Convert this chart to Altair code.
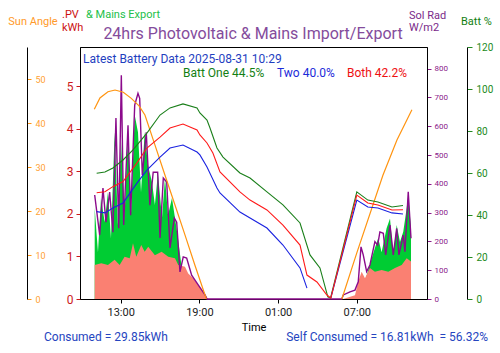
import altair as alt
import pandas as pd

FONT = "Roboto"

# ---------------- data (time = hours since 00:00 on the first day) ----------------
# total PV (upper edge of the green "mains export" area), kWh
pv_total_t = [11.02, 11.27, 11.50, 11.78, 12.03, 12.26, 12.54, 12.79, 13.02, 13.30,
              13.56, 13.79, 14.07, 14.32, 14.55, 14.83, 15.08, 15.39, 15.61, 15.84,
              16.15, 16.38, 16.61, 16.91, 17.14, 17.37, 17.67, 17.90, 18.40, 19.00,
              19.60, 31.50, 31.75, 32.13, 32.38, 32.63, 32.89, 33.27, 33.53, 33.78,
              34.04, 34.29, 34.54, 34.80, 34.92, 35.13]
pv_total_kwh = [2.14, 1.10, 2.37, 1.81, 2.51, 1.43, 3.92, 1.74, 3.73, 1.97,
                3.92, 2.04, 4.32, 3.92, 2.51, 3.92, 3.14, 2.74, 2.21, 2.96,
                1.90, 2.84, 1.97, 2.37, 1.90, 1.43, 0.70, 0.55, 0.30, 0.10,
                0.0, 0.0, 0.55, 0.95, 1.20, 1.43, 1.10, 1.66, 1.89, 1.03,
                1.74, 1.34, 1.58, 2.13, 2.44, 1.66]

# PV used on site (salmon area), kWh
pv_used_t = [11.02, 11.52, 12.03, 12.54, 12.92, 13.30, 13.69, 13.94, 14.19, 14.57,
             14.83, 15.10, 15.61, 16.12, 16.63, 17.14, 17.39, 17.90, 18.15, 18.53,
             18.91, 19.30, 19.55, 19.65, 29.95, 30.86, 31.11, 31.37, 31.62, 32.00,
             32.38, 32.89, 33.40, 33.91, 34.42, 34.80, 35.13]
pv_used_kwh = [0.80, 0.84, 0.80, 0.92, 0.80, 0.99, 0.96, 1.31, 0.99, 1.27,
               1.11, 1.23, 1.03, 1.11, 0.99, 0.96, 0.80, 0.76, 0.60, 0.49,
               0.33, 0.17, 0.05, 0.0, 0.0, 0.09, 0.41, 0.64, 0.49, 0.73,
               0.64, 0.68, 0.64, 0.73, 0.80, 0.96, 0.88]

# solar radiation, W/m2
solrad_t = [11.02, 11.40, 11.65, 11.88, 12.16, 12.41, 12.64, 12.85, 13.05, 13.23,
            13.56, 13.76, 14.07, 14.32, 14.45, 14.65, 14.95, 15.23, 15.48, 15.82,
            16.00, 16.25, 16.51, 16.76, 17.09, 17.27, 17.52, 17.77, 18.03, 18.41,
            18.91, 19.43, 19.58, 29.85, 29.97, 30.48, 30.86, 31.11, 31.32, 31.49,
            31.75, 32.00, 32.38, 32.59, 32.76, 33.02, 33.20, 33.53, 33.78, 34.04,
            34.21, 34.54, 34.67, 34.92, 35.13]
solrad_wm2 = [361, 222, 385, 267, 371, 232, 628, 246, 777, 257,
              603, 291, 673, 714, 697, 430, 579, 326, 440, 440,
              212, 420, 406, 177, 281, 267, 94, 146, 142, 83,
              49, 14, 0, 0, 14, 25, 31, 60, 181, 153,
              95, 118, 199, 187, 233, 228, 153, 257, 153, 245,
              153, 222, 164, 372, 211]

# sun angle, degrees (two daylight segments)
sun_t = [10.99, 11.42, 12.03, 12.57, 13.20, 13.81, 14.40, 14.85, 15.61, 16.38,
         17.14, 17.90, 18.66, 19.43, 19.53,
         29.86, 31.00, 32.99, 34.06, 35.20]
sun_deg = [43.2, 45.8, 47.2, 47.6, 47.1, 45.7, 44.0, 41.9, 35.1, 28.2,
           21.4, 14.6, 7.7, 0.9, 0.0,
           0.0, 10.5, 28.2, 36.2, 43.1]
sun_seg = [0] * 15 + [1] * 5

# battery state of charge, %
batt_one_t = [11.17, 11.80, 12.41, 13.18, 13.94, 15.00, 16.00, 16.76, 17.75, 18.82,
              19.04, 19.58, 19.81, 20.34, 20.80, 22.09, 22.86, 24.15, 25.37, 26.67,
              27.43, 28.19, 28.79, 29.00, 31.00, 31.84, 32.61, 33.68, 34.52]
batt_one_pct = [59.9, 60.5, 62.4, 66.2, 71.0, 79.0, 87.6, 91.0, 92.9, 91.0,
                88.6, 85.2, 81.4, 71.9, 67.6, 60.0, 57.6, 51.0, 44.8, 36.2,
                21.0, 14.8, 1.0, 0.5, 51.0, 47.1, 46.2, 43.8, 44.5]

batt_two_t = [11.17, 11.80, 12.41, 13.18, 14.24, 15.00, 16.00, 16.76, 17.75, 18.82,
              19.04, 19.58, 20.34, 20.57, 22.09, 24.15, 25.37, 26.67, 27.20,
              29.02, 31.00, 31.84, 32.61, 33.68, 34.52]
batt_two_pct = [41.6, 41.0, 43.3, 45.7, 55.2, 61.4, 67.6, 71.9, 73.3, 70.0,
                68.6, 62.9, 52.9, 50.5, 41.4, 33.8, 25.7, 14.8, 5.2,
                0.5, 47.1, 43.8, 43.3, 41.0, 40.5]
batt_two_seg = [0] * 19 + [1] * 6

batt_both_t = [11.17, 11.80, 12.41, 13.18, 14.24, 15.00, 16.00, 16.76, 17.75, 18.82,
               19.04, 19.58, 20.03, 20.57, 22.09, 22.86, 24.15, 25.37, 26.67, 27.20,
               27.96, 28.72, 29.02, 31.00, 31.84, 32.61, 33.68, 34.52]
batt_both_pct = [50.6, 51.1, 53.5, 55.9, 64.8, 71.9, 77.1, 81.4, 83.3, 80.5,
                 78.1, 74.3, 69.5, 60.5, 51.0, 47.1, 42.4, 35.2, 25.7, 11.4,
                 8.1, 1.9, 0.5, 49.5, 45.7, 44.8, 42.4, 42.5]

x_ticks = [13, 19, 25, 31]

# ---------------- tables ----------------
df_total = pd.DataFrame({"t": pv_total_t, "v": pv_total_kwh})
df_used = pd.DataFrame({"t": pv_used_t, "v": pv_used_kwh})
df_sol = pd.DataFrame({"t": solrad_t, "v": solrad_wm2})
df_sun = pd.DataFrame({"t": sun_t, "v": sun_deg, "seg": sun_seg})
df_batt = pd.concat([
    pd.DataFrame({"t": batt_one_t, "v": batt_one_pct, "series": "One", "seg": 0}),
    pd.DataFrame({"t": batt_two_t, "v": batt_two_pct, "series": "Two", "seg": batt_two_seg}),
    pd.DataFrame({"t": batt_both_t, "v": batt_both_pct, "series": "Both", "seg": 0}),
], ignore_index=True)

# ---------------- encodings ----------------
x_enc = alt.X(
    "t:Q",
    scale=alt.Scale(domain=[9.9, 36.35], nice=False, zero=False),
    axis=alt.Axis(
        values=x_ticks,
        labelExpr="(datum.value % 24 < 10 ? '0' : '') + (datum.value % 24) + ':00'",
        title="Time", titleFont=FONT, titleFontSize=11, titleFontWeight="normal",
        titleColor="black", titlePadding=4,
        labelFont=FONT, labelFontSize=11, labelColor="#222222", labelPadding=3,
        tickColor="black", tickSize=4, domainColor="black", grid=False,
    ),
)

pv_scale = alt.Scale(domain=[0, 5.92], nice=False, zero=True)

green_area = alt.Chart(df_total).mark_area(color="#00cc33", opacity=1).encode(
    x=x_enc,
    y=alt.Y("v:Q", scale=pv_scale, axis=alt.Axis(
        orient="left", values=[0, 1, 2, 3, 4, 5], title=None, grid=False,
        labelColor="#cc1a1a", tickColor="#cc1a1a", domainColor="black",
        labelFont=FONT, labelFontSize=12, tickSize=4, labelPadding=3)),
)

salmon_area = alt.Chart(df_used).mark_area(color="#fa8072", opacity=1).encode(
    x=x_enc,
    y=alt.Y("v:Q", scale=pv_scale, axis=None),
)

sol_line = alt.Chart(df_sol).mark_line(color="#8b0a8b", strokeWidth=1.4).encode(
    x=x_enc,
    y=alt.Y("v:Q", scale=alt.Scale(domain=[0, 875], nice=False), axis=alt.Axis(
        orient="right", values=list(range(0, 900, 100)), title=None, grid=False,
        labelColor="#8b1a8b", tickColor="#8b1a8b", domainColor="black",
        labelFont=FONT, labelFontSize=8, tickSize=4, labelPadding=3)),
)

sun_line = alt.Chart(df_sun).mark_line(color="#ff9410", strokeWidth=1.2).encode(
    x=x_enc,
    y=alt.Y("v:Q", scale=alt.Scale(domain=[0, 57.4], nice=False), axis=alt.Axis(
        orient="right", offset=-400, values=[0, 10, 20, 30, 40, 50], title=None,
        grid=False, labelColor="#ffa033", tickColor="#ff9410", domainColor="black",
        labelFont=FONT, labelFontSize=9, tickSize=4, labelPadding=4)),
    detail="seg:N",
)

batt_lines = alt.Chart(df_batt).mark_line(strokeWidth=1.1).encode(
    x=x_enc,
    y=alt.Y("v:Q", scale=alt.Scale(domain=[0, 120], nice=False), axis=alt.Axis(
        orient="right", offset=40, values=[0, 20, 40, 60, 80, 100, 120], title=None,
        grid=False, labelColor="#228b22", tickColor="#228b22", domainColor="black",
        labelFont=FONT, labelFontSize=10, tickSize=5, labelPadding=4)),
    color=alt.Color("series:N", scale=alt.Scale(
        domain=["One", "Two", "Both"], range=["#1a7f1a", "#1a22e0", "#ff1a1a"]), legend=None),
    detail="seg:N",
)


def label(text, x, y, color, size=12, align="left"):
    return alt.Chart(alt.Data(values=[{}])).mark_text(
        text=text, align=align, baseline="alphabetic", font=FONT, fontSize=size, color=color
    ).encode(x=alt.value(x), y=alt.value(y))


texts = [
    label("24hrs Photovoltaic & Mains Import/Export", 173, -8, "#844c9c", 16, "center"),
    label("Sun Angle", -47, -22, "#ff9a2a", 11, "center"),
    label(".PV", -18, -29, "#cc1111", 11),
    label("kWh", -18, -16, "#cc1111", 11),
    label("& Mains Export", 6, -29, "#22c04a", 11),
    label("Sol Rad", 329, -28, "#7a2a8a", 11),
    label("W/m2", 329, -16, "#7a2a8a", 11),
    label("Batt %", 381, -22, "#118011", 11),
    label("Latest Battery Data 2025-08-31 10:29", 3, 16, "#1f3fbf", 12),
    label("Batt One 44.5%", 103, 30, "#138013", 12),
    label("Two 40.0%", 197, 30, "#1c2bd9", 12),
    label("Both 42.2%", 267, 30, "#ee1111", 12),
    label("Consumed = 29.85kWh", -36, 294, "#2545c0", 12),
    label("Self Consumed = 16.81kWh\u00a0 = 56.32%", 408, 294, "#2545c0", 12, "right"),
]

chart = alt.layer(
    green_area, salmon_area, sol_line, sun_line, batt_lines, *texts
).resolve_scale(y="independent").properties(
    width=347, height=252,
    autosize=alt.AutoSizeParams(type="none"),
    padding={"left": 80, "top": 47, "right": 73, "bottom": 54},
    background="white",
).configure_view(stroke="black", strokeWidth=1)

chart.save("out.html", embed_options={"renderer": "svg", "actions": False})
